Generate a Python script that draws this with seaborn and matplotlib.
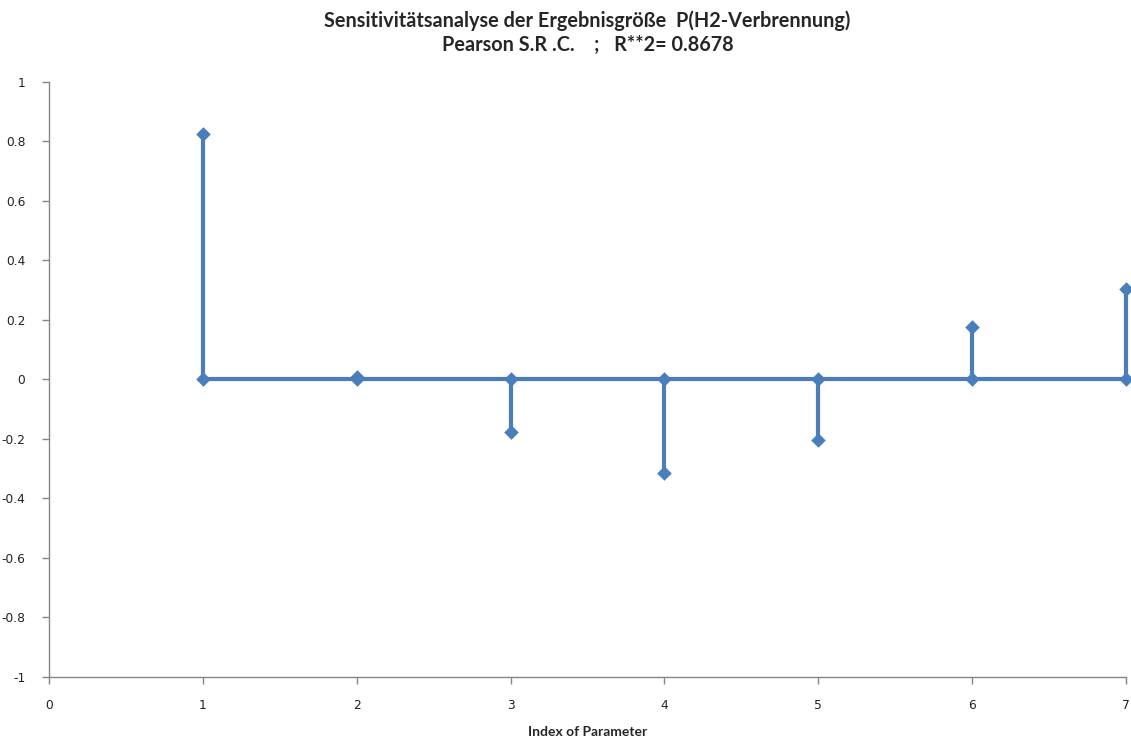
import matplotlib
matplotlib.use("Agg")
import matplotlib.pyplot as plt
import seaborn as sns
import pandas as pd
import numpy as np

param_index = [1, 2, 3, 4, 5, 6, 7]
src_values = [0.825, 0.01, -0.175, -0.315, -0.205, 0.175, 0.305]
y_ticks = [-1, -0.8, -0.6, -0.4, -0.2, 0, 0.2, 0.4, 0.6, 0.8, 1]
x_ticks = [0, 1, 2, 3, 4, 5, 6, 7]

sns.set_theme(style="white")
plt.rcParams['font.family'] = ['Lato', 'DejaVu Sans']

color = "#4A7EBB"
df = pd.DataFrame({"idx": param_index, "val": src_values})
df_zero = pd.DataFrame({"idx": param_index, "val": [0.0] * len(param_index)})

fig = plt.figure(figsize=(11.31, 7.42), dpi=100)
ax = fig.add_axes([0.0433, 0.0876, 0.9523, 0.8019])

# baseline
sns.lineplot(data=df_zero, x="idx", y="val", color=color, linewidth=3, ax=ax, zorder=2)
# stems
ax.vlines(df["idx"], 0, df["val"], color=color, linewidth=3, zorder=2)
# markers
for d in (df_zero, df):
    sns.scatterplot(data=d, x="idx", y="val", marker="D", s=55, color=color,
                    edgecolor=color, linewidth=0, ax=ax, zorder=3, clip_on=False)
for ln in ax.lines:
    ln.set_clip_on(False)
for c in ax.collections:
    c.set_clip_on(False)

ax.set_xlim(0, 7)
ax.set_ylim(-1, 1)
ax.set_xticks(x_ticks)
ax.set_xticklabels([str(t) for t in x_ticks])
ax.set_yticks(y_ticks)
ax.set_yticklabels(["-1", "-0.8", "-0.6", "-0.4", "-0.2", "0", "0.2", "0.4", "0.6", "0.8", "1"])

for s in ["top", "right"]:
    ax.spines[s].set_visible(False)
for s in ["left", "bottom"]:
    ax.spines[s].set_color("#868686")
    ax.spines[s].set_linewidth(1.0)

ax.tick_params(axis="both", which="major", direction="out", length=5, width=1,
               color="#868686", labelcolor="#222222", bottom=True, left=True)
ax.tick_params(axis="y", pad=12)
ax.tick_params(axis="x", pad=11)
for lbl in ax.get_xticklabels() + ax.get_yticklabels():
    lbl.set_family(['DejaVu Sans'])
    lbl.set_fontsize(8.8)

ax.set_xlabel("Index of Parameter", fontsize=10, fontweight="bold", labelpad=10)
ax.set_ylabel("")
ax.set_title("Sensitivitätsanalyse der Ergebnisgröße  P(H2-Verbrennung)\nPearson S.R .C.    ;   R**2= 0.8678",
             fontsize=14.3, fontweight="bold", pad=22, linespacing=1.25)

if ax.get_legend():
    ax.get_legend().remove()

fig.savefig("out.png", dpi=100, facecolor="white")
